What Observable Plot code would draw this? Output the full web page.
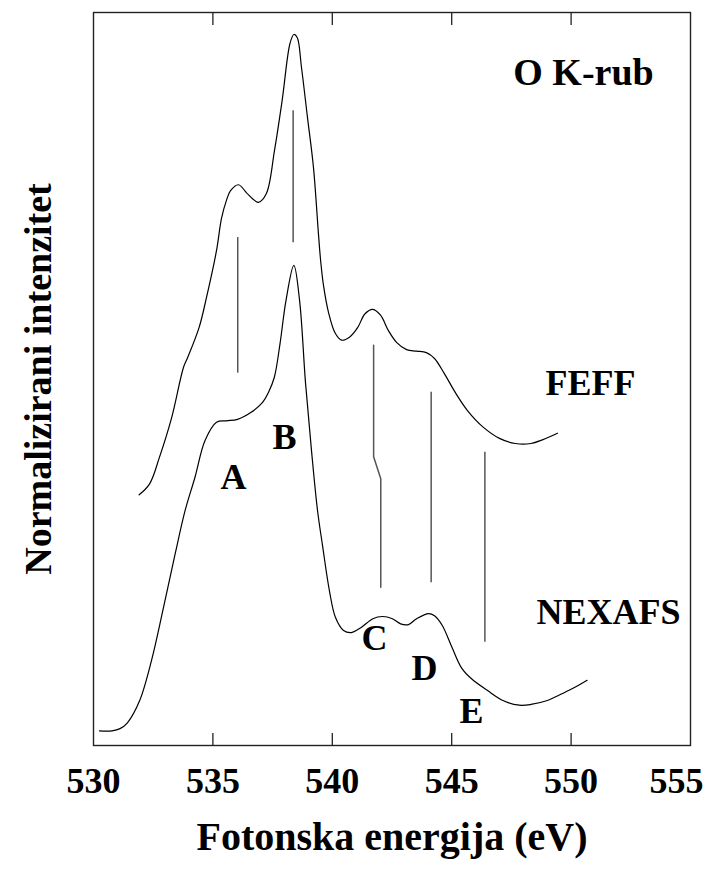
<!DOCTYPE html>
<html>
<head>
<meta charset="utf-8">
<script src="https://cdn.jsdelivr.net/npm/d3@7"></script>
<script src="https://cdn.jsdelivr.net/npm/@observablehq/plot@0.6"></script>
<style>
  html, body { margin: 0; padding: 0; background: #fff; }
  #chart { width: 705px; height: 875px; }
</style>
</head>
<body>
<div id="chart"></div>
<script>
// FEFF spectrum: energy (eV) and normalized intensity
const feffE = [531.91,532.35,532.76,533.27,533.77,533.94,534.42,534.73,535.15,535.36,535.57,535.74,536.07,536.41,536.66,536.91,537.24,537.58,537.90,538.23,538.39,538.53,538.71,538.96,539.21,539.42,539.51,539.63,539.84,540.13,540.39,540.72,541.06,541.37,541.70,542.02,542.35,542.69,543.11,543.53,543.94,544.28,544.68,545.18,545.66,546.33,547.00,547.67,548.32,548.80,549.43];
const feffI = [0.342,0.357,0.393,0.447,0.516,0.529,0.570,0.611,0.675,0.719,0.744,0.757,0.765,0.754,0.746,0.741,0.753,0.812,0.880,0.958,0.970,0.966,0.925,0.857,0.789,0.698,0.662,0.628,0.591,0.562,0.553,0.557,0.570,0.589,0.595,0.587,0.566,0.550,0.540,0.538,0.536,0.528,0.508,0.480,0.457,0.434,0.419,0.412,0.412,0.417,0.426];

// NEXAFS spectrum
const nexE = [530.25,530.78,531.11,531.42,531.93,532.43,532.93,533.43,533.84,534.25,534.67,535.15,535.57,536.03,536.57,537.08,537.33,537.57,537.81,538.06,538.39,538.63,538.88,539.13,539.38,539.59,539.88,540.13,540.47,540.80,541.21,541.70,542.10,542.52,542.86,543.19,543.53,544.03,544.28,544.60,545.01,545.41,545.83,546.50,547.17,547.83,548.32,548.97,549.64,550.14,550.67];
const nexI = [0.020,0.020,0.023,0.031,0.061,0.116,0.188,0.263,0.321,0.366,0.416,0.441,0.443,0.445,0.454,0.468,0.482,0.502,0.548,0.607,0.655,0.607,0.494,0.402,0.321,0.273,0.211,0.175,0.157,0.154,0.161,0.173,0.176,0.173,0.166,0.165,0.173,0.180,0.177,0.164,0.134,0.106,0.091,0.075,0.061,0.055,0.056,0.061,0.071,0.079,0.089];

// Vertical correspondence markers (A, B, D, E straight)
const markerE  = [536.04, 538.36, 544.14, 546.39];
const markerI1 = [0.508, 0.686, 0.222, 0.141];
const markerI2 = [0.693, 0.866, 0.482, 0.400];
// C marker (kinked)
const markerCE = [541.73, 541.73, 542.03, 542.03];
const markerCI = [0.546, 0.394, 0.364, 0.216];

// Annotations
const noteText = ["O K-rub", "FEFF", "NEXAFS", "A", "B", "C", "D", "E"];
const noteE    = [550.52, 550.81, 551.57, 535.86, 538.00, 541.77, 543.86, 545.83];
const noteI    = [0.918, 0.494, 0.181, 0.366, 0.420, 0.146, 0.105, 0.046];
const noteSize = [38, 36, 36, 36, 36, 36, 36, 36];

const xTickLabels = [530, 535, 540, 545, 550];
const xLastLabel = [555];
const xInnerTicks = [535, 540, 545, 550];
const xTitle = "Fotonska energija (eV)";
const yTitle = "Normalizirani intenzitet";

const feff = feffE.map((e, i) => ({e, v: feffI[i]}));
const nex = nexE.map((e, i) => ({e, v: nexI[i]}));
const markers = markerE.map((e, i) => ({e, v1: markerI1[i], v2: markerI2[i]}));
const markerC = markerCE.map((e, i) => ({e, v: markerCI[i]}));
const notes = noteText.map((t, i) => ({t, e: noteE[i], v: noteI[i], s: noteSize[i]}));

const FONT = "'Liberation Serif', 'Times New Roman', serif";

const chart = Plot.plot({
  width: 705,
  height: 875,
  marginLeft: 93,
  marginRight: 15,
  marginTop: 12,
  marginBottom: 130,
  style: {fontFamily: FONT, background: "white", color: "black", overflow: "visible"},
  x: {domain: [530, 555]},
  y: {domain: [0, 1], axis: null},
  marks: [
    Plot.frame({stroke: "#222", strokeWidth: 1.4}),
    Plot.axisX(xInnerTicks, {anchor: "bottom", tickSize: -12, tickFormat: () => "", label: null, stroke: "#222", strokeWidth: 1.3}),
    Plot.axisX(xInnerTicks, {anchor: "top", tickSize: -12, tickFormat: () => "", label: null, stroke: "#222", strokeWidth: 1.3}),
    Plot.axisX(xTickLabels, {anchor: "bottom", tickSize: 0, tickPadding: 22, fontSize: 36, fontWeight: "bold", fill: "black", label: null}),
    Plot.axisX(xLastLabel, {anchor: "bottom", tickSize: 0, tickPadding: 22, dx: -14, fontSize: 36, fontWeight: "bold", fill: "black", label: null}),
    Plot.text([xTitle], {frameAnchor: "bottom", textAnchor: "middle", dy: 104, fontSize: 40, fontWeight: "bold", fill: "black"}),
    Plot.text([yTitle], {frameAnchor: "left", textAnchor: "middle", rotate: -90, dx: -55, fontSize: 38, fontWeight: "bold", fill: "black"}),
    Plot.ruleX(markers, {x: "e", y1: "v1", y2: "v2", stroke: "#555", strokeWidth: 1.5}),
    Plot.line(markerC, {x: "e", y: "v", stroke: "#555", strokeWidth: 1.5}),
    Plot.line(feff, {x: "e", y: "v", stroke: "black", strokeWidth: 1.2, curve: "catmull-rom"}),
    Plot.line(nex, {x: "e", y: "v", stroke: "black", strokeWidth: 1.2, curve: "catmull-rom"}),
    Plot.text(notes, {x: "e", y: "v", text: "t", fontSize: (d) => d.s, fontWeight: "bold", fill: "black"})
  ]
});
document.getElementById("chart").appendChild(chart);
</script>
</body>
</html>
